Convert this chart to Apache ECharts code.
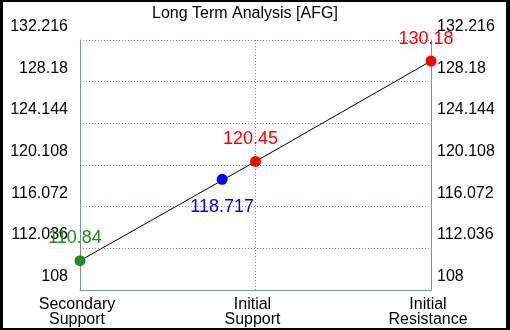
<!DOCTYPE html>
<html>
<head>
<meta charset="utf-8">
<script src="https://cdn.jsdelivr.net/npm/echarts@6/dist/echarts.min.js"></script>
<style>
html,body{margin:0;padding:0;background:#000;width:510px;height:330px;overflow:hidden;}
#frame{position:absolute;left:3px;top:2px;right:4px;bottom:2px;background:#fff;}
#chart{position:absolute;left:0;top:0;width:510px;height:330px;}
</style>
</head>
<body>
<div id="frame"></div>
<div id="chart"></div>
<script>
const titleText = 'Long Term Analysis [AFG]';
const categories = ['Secondary\nSupport', 'Initial\nSupport', 'Initial\nResistance'];
const levelValues = [110.84, 120.45, 130.18];
const currentPrice = 118.717;
const currentPos = 0.81;
const yBase = 108;
const yStep = 4.036;
const yTickLabels = ['108', '112.036', '116.072', '120.108', '124.144', '128.18', '132.216'];

const FONT = 'Liberation Sans, Arial, sans-serif';
const gridColor = '#7d8dab';
const yMax = yStep * (yTickLabels.length - 1);

const chart = echarts.init(document.getElementById('chart'), null, {renderer: 'canvas'});

function yAxisDef(pos) {
  return {
    type: 'value', position: pos, min: 0, max: yMax, interval: yStep,
    axisLine: {show: true, lineStyle: {color: gridColor, width: 1}},
    axisTick: {show: false},
    splitLine: {show: pos === 'left', lineStyle: {color: gridColor, type: [1, 2], width: 1}},
    axisLabel: {
      color: '#000', fontFamily: FONT, fontSize: 16,
      margin: pos === 'left' ? 12 : 6,
      verticalAlign: 'bottom', lineHeight: 27,
      formatter: (v, i) => yTickLabels[Math.round(v / yStep)]
    }
  };
}

const labelDefs = [
  {color: '#228b22', offset: [-5, -23]},
  {color: '#ff0000', offset: [-5, -22]},
  {color: '#ff0000', offset: [-5, -22]}
];

const pointSeries = levelValues.map((v, i) => ({
  type: 'scatter', symbol: 'circle', symbolSize: 11, z: 5,
  itemStyle: {color: labelDefs[i].color, opacity: 1},
  emphasis: {disabled: true},
  label: {show: true, position: 'inside', offset: labelDefs[i].offset, color: labelDefs[i].color,
          opacity: 1, fontFamily: FONT, fontSize: 18, formatter: () => String(levelValues[i])},
  data: [[i, v - yBase]]
}));

chart.setOption({
  animation: false,
  backgroundColor: 'transparent',
  title: {text: titleText, left: 147, top: 1,
          textStyle: {fontFamily: FONT, fontSize: 16, fontWeight: 'normal', color: '#000'}},
  grid: {left: 80, right: 79, top: 40, bottom: 40, containLabel: false},
  xAxis: {
    type: 'value', min: 0, max: categories.length - 1, interval: 1,
    axisLine: {show: true, lineStyle: {color: gridColor}},
    axisTick: {show: false},
    splitLine: {show: true, lineStyle: {color: gridColor, type: [1, 2]}},
    axisLabel: {color: '#000', fontFamily: FONT, fontSize: 16, lineHeight: 15, margin: 7,
                padding: [0, 6, 0, 0],
                formatter: v => categories[Math.round(v)]}
  },
  yAxis: [yAxisDef('left'), yAxisDef('right')],
  series: [
    {type: 'line', symbol: 'none', z: 3,
     lineStyle: {color: '#000', width: 1},
     data: levelValues.map((v, i) => [i, v - yBase])},
    ...pointSeries,
    {type: 'scatter', symbol: 'circle', symbolSize: 11, z: 6,
     itemStyle: {color: '#0000ff', opacity: 1},
     emphasis: {disabled: true},
     label: {show: true, position: 'inside', offset: [0, 28], color: '#0000ff', opacity: 1,
             fontFamily: FONT, fontSize: 18, formatter: () => String(currentPrice)},
     data: [[currentPos, currentPrice - yBase]]}
  ]
});
</script>
</body>
</html>
